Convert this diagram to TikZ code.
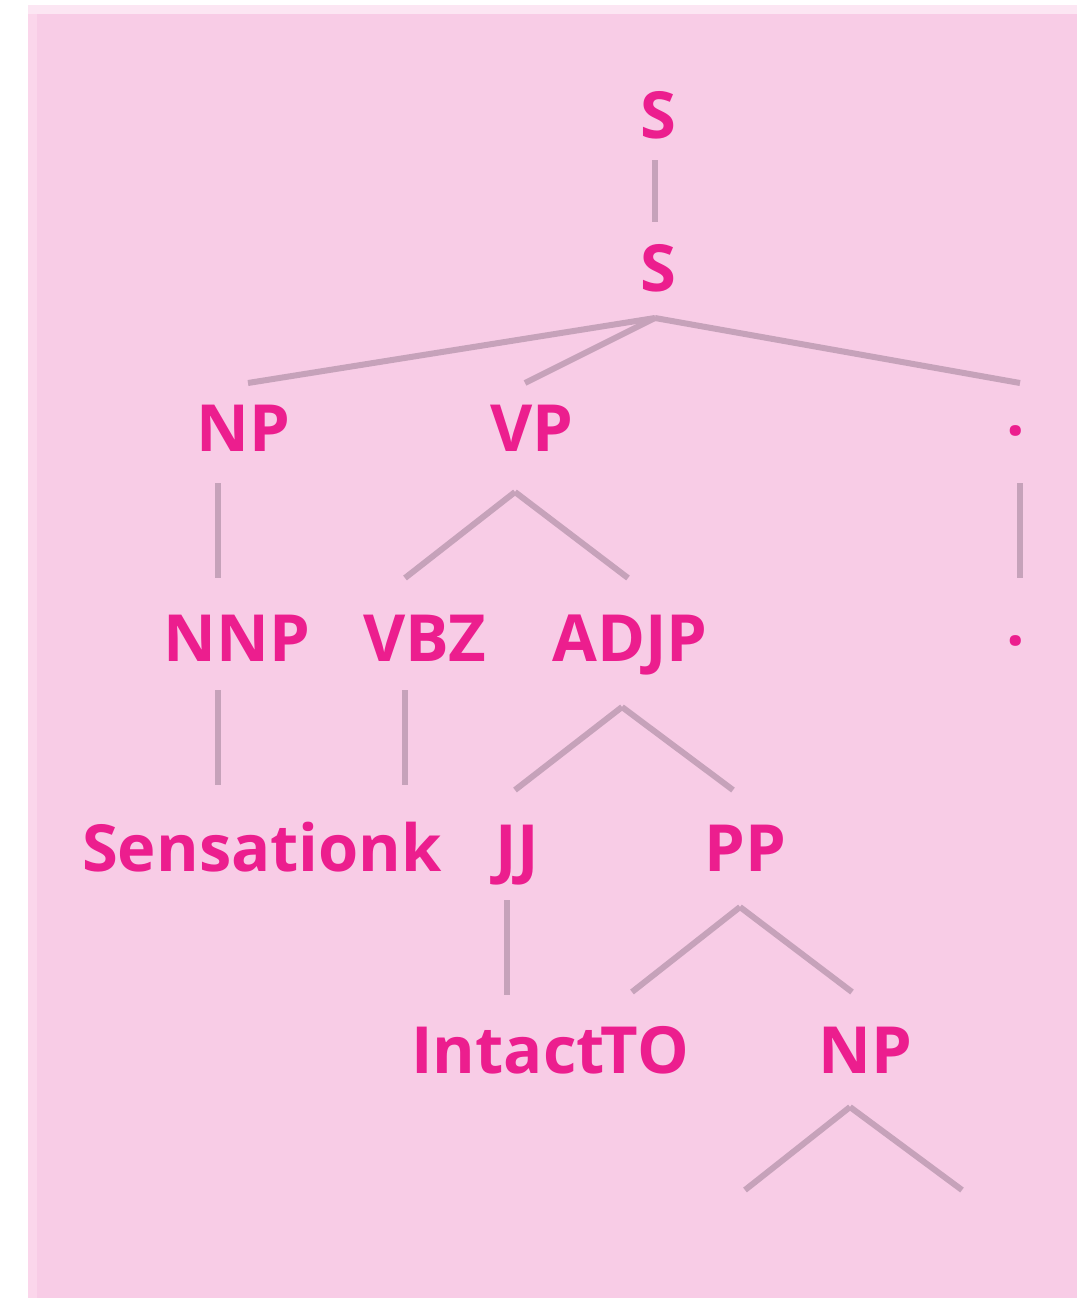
\documentclass[tikz,border=0pt]{standalone}
\usepackage{fontspec}
\setmainfont{Open Sans}
\definecolor{bgpink}{HTML}{F8CCE6}
\definecolor{bglight}{HTML}{FCE6F3}
\definecolor{bgedge}{HTML}{FBD6EB}
\definecolor{labmag}{HTML}{EC1E8E}
\definecolor{linegray}{HTML}{C6A2BA}
\begin{document}
\begin{tikzpicture}[x=1pt,y=-1pt,
  lab/.style={inner sep=0pt, outer sep=0pt, text height=46pt, text depth=0pt,
    font=\fontsize{65}{65}\selectfont\bfseries, text=labmag},
  br/.style={draw=linegray, line width=6pt}]
\useasboundingbox (0,0) rectangle (1077,1298);
\fill[white] (0,0) rectangle (1077,1298);
\fill[bglight] (28,5) rectangle (1077,14);
\fill[bgpink] (28,14) rectangle (1077,1298);
\fill[bgedge] (28,14) rectangle (37,1298);
% labels
\node[lab] (S1) at (658,115) {S};
\node[lab] (S2) at (658,268) {S};
\node[lab] (NP) at (243,428) {NP};
\node[lab] (VP) at (532,428) {VP};
\node[lab] (D1) at (1016,428) {\raisebox{16pt}{.}};
\node[lab] (NNP) at (237,638) {NNP};
\node[lab] (VBZ) at (425,638) {VBZ};
\node[lab] (ADJP) at (630,638) {ADJP};
\node[lab] (D2) at (1016,638) {\raisebox{16pt}{.}};
\node[lab] (SEN) at (262,848) {Sensationk};
\node[lab] (JJ) at (517,848) {JJ};
\node[lab] (PP) at (745,848) {PP};
\node[lab] (INT) at (508,1050) {Intact};
\node[lab] (TO) at (645,1050) {TO};
\node[lab] (NP2) at (865,1050) {NP};
\coordinate (NPl) at (745,1190);
\coordinate (NPr) at (962,1190);
% connectors
\draw[br] ([xshift=-3pt,yshift=-22pt]S1.south) -- ([xshift=-3pt,yshift=23pt]S2.north);
\draw[br] ([xshift=-3pt,yshift=-27pt]S2.south) -- ([xshift=5pt,yshift=22pt]NP.north);
\draw[br] ([xshift=-3pt,yshift=-27pt]S2.south) -- ([xshift=-7pt,yshift=22pt]VP.north);
\draw[br] ([xshift=-3pt,yshift=-27pt]S2.south) -- ([xshift=4pt,yshift=22pt]D1.north);
\draw[br] ([xshift=-25pt,yshift=-32pt]NP.south) -- ([xshift=-19pt,yshift=37pt]NNP.north);
\draw[br] ([xshift=-17pt,yshift=-41pt]VP.south) -- ([xshift=-20pt,yshift=37pt]VBZ.north);
\draw[br] ([xshift=-17pt,yshift=-41pt]VP.south) -- ([xshift=-2pt,yshift=37pt]ADJP.north);
\draw[br] ([xshift=4pt,yshift=-32pt]D1.south) -- ([xshift=4pt,yshift=37pt]D2.north);
\draw[br] ([xshift=-19pt,yshift=-29pt]NNP.south) -- ([xshift=-44pt,yshift=40pt]SEN.north);
\draw[br] ([xshift=-20pt,yshift=-29pt]VBZ.south) -- ([xshift=143pt,yshift=40pt]SEN.north);
\draw[br] ([xshift=-8pt,yshift=-46pt]ADJP.south) -- ([xshift=-2pt,yshift=35pt]JJ.north);
\draw[br] ([xshift=-8pt,yshift=-46pt]ADJP.south) -- ([xshift=-12pt,yshift=35pt]PP.north);
\draw[br] ([xshift=-10pt,yshift=-29pt]JJ.south) -- ([xshift=-1pt,yshift=32pt]INT.north);
\draw[br] ([xshift=-5pt,yshift=-36pt]PP.south) -- ([xshift=-13pt,yshift=35pt]TO.north);
\draw[br] ([xshift=-5pt,yshift=-36pt]PP.south) -- ([xshift=-13pt,yshift=35pt]NP2.north);
\draw[br] ([xshift=-15pt,yshift=-34pt]NP2.south) -- (NPl);
\draw[br] ([xshift=-15pt,yshift=-34pt]NP2.south) -- (NPr);
\end{tikzpicture}
\end{document}
